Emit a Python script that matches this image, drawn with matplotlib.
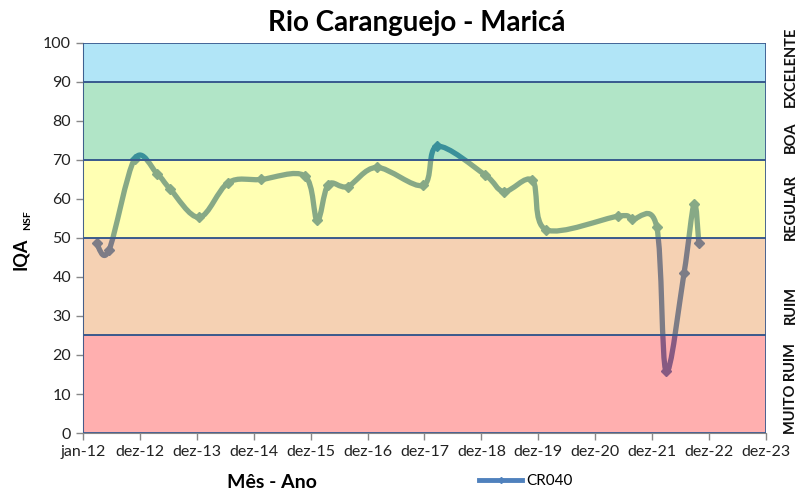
#! /usr/bin/env python

'''
IQA (NSF) do Rio Caranguejo - Marica, estacao CR040.
'''

import numpy as np
import matplotlib
matplotlib.use('Agg')
import matplotlib.pyplot as plt
import matplotlib.dates as mdates
from matplotlib.path import Path
from matplotlib.patches import PathPatch
from matplotlib.lines import Line2D

plt.rcParams['font.family'] = ['Lato', 'DejaVu Sans']

datas = ['2012-03-28', '2012-06-15', '2012-11-28', '2013-04-22',
         '2013-07-12', '2014-01-16', '2014-07-21', '2015-02-14', '2015-11-24',
         '2016-02-11', '2016-04-22', '2016-08-24', '2017-02-27', '2017-12-22',
         '2018-03-22', '2019-01-22', '2019-05-24', '2019-11-22', '2020-02-19',
         '2021-05-26', '2021-08-24', '2022-01-27', '2022-03-28', '2022-07-21',
         '2022-09-24', '2022-10-24']
iqa = [48.6, 46.8, 70.3, 66.4,
       62.6, 55.3, 64.2, 65.0, 65.9,
       54.5, 63.7, 63.2, 68.1, 63.5,
       73.5, 66.2, 61.9, 64.8, 52.1,
       55.6, 54.9, 52.9, 15.8, 40.9,
       58.8, 48.8]

faixas = [(0, 25), (25, 50), (50, 70), (70, 90), (90, 100)]
faixa_nomes = ['MUITO RUIM', 'RUIM', 'REGULAR', 'BOA', 'EXCELENTE']
faixa_cores = ['#ff0808', '#e07214', '#ffff14', '#0eb153', '#0eb1e9']
nome_pos = [11.5, 32.8, 57.9, 75.9, 93.8]

inicio = '2012-01-01'
x_labels = ['jan-12', 'dez-12', 'dez-13', 'dez-14', 'dez-15', 'dez-16',
            'dez-17', 'dez-18', 'dez-19', 'dez-20', 'dez-21', 'dez-22', 'dez-23']


def smooth_path(x, y):
    '''
    Curva suave tipo Excel (Catmull-Rom como bezier cubica).
    '''
    p = np.column_stack([x, y])
    p_ext = np.vstack([p[0], p, p[-1]])
    verts = [p[0]]
    codes = [Path.MOVETO]
    for i in range(len(p) - 1):
        p0, p1, p2, p3 = p_ext[i], p_ext[i + 1], p_ext[i + 2], p_ext[i + 3]
        verts += [p1 + (p2 - p0) / 6.0, p2 - (p3 - p1) / 6.0, p2]
        codes += [Path.CURVE4] * 3
    return Path(verts, codes)


def plot_iqa():
    fig = plt.figure(figsize=(8.11, 4.93), dpi=100)
    ax = fig.add_axes([0.1023, 0.1217, 0.8422, 0.7911])

    x = mdates.datestr2num(datas)
    y = np.array(iqa)
    azul = '#4f81bd'

    path = smooth_path(x, y)
    ax.add_patch(PathPatch(path, facecolor='none', edgecolor=azul, lw=3.8,
                           capstyle='round', joinstyle='round', zorder=1))
    ax.plot(x, y, ls='none', marker='D', ms=5.5, color=azul, zorder=2)

    for (y0, y1), cor in zip(faixas, faixa_cores):
        ax.axhspan(y0, y1, facecolor=matplotlib.colors.to_rgba(cor, 0.32),
                   edgecolor='#3b5b8f', lw=1.3, zorder=3)

    t0 = mdates.datestr2num(inicio)
    ticks = t0 + 365 * np.arange(len(x_labels))
    ax.set_xlim(ticks[0], ticks[-1])
    ax.set_ylim(0, 100)
    ax.set_xticks(ticks)
    ax.set_xticklabels(x_labels)
    ax.set_yticks(np.arange(0, 101, 10))
    ax.tick_params(labelsize=11.5, colors='#222222', length=5, width=1,
                   color='#888888')
    for s in ax.spines.values():
        s.set_visible(False)
    ax.spines['left'].set_visible(True)
    ax.spines['left'].set_color('#888888')
    ax.spines['bottom'].set_visible(True)
    ax.spines['bottom'].set_color('#888888')

    for nome, pos in zip(faixa_nomes, nome_pos):
        ax.text(1.0366, pos, nome, transform=ax.get_yaxis_transform(),
                rotation=90, ha='center', va='center', fontsize=10.5,
                fontweight='bold', color='#111111')

    fig.text(417 / 811, 1 - 23 / 493, 'Rio Caranguejo - Maricá', ha='center',
             va='center', fontsize=20, fontweight='bold')
    fig.text(272 / 811, 1 - 482 / 493, 'Mês - Ano', ha='center', va='center',
             fontsize=14, fontweight='bold')
    fig.text(21 / 811, 1 - 254 / 493, 'IQA', rotation=90, ha='center',
             va='center', fontsize=13, fontweight='bold')
    fig.text(28 / 811, 1 - 220 / 493, 'NSF', rotation=90, ha='center',
             va='center', fontsize=7.5, fontweight='bold')

    handle = Line2D([], [], color=azul, lw=3.5, marker='D', ms=3)
    fig.legend([handle], ['CR040'], loc='center', frameon=False,
               bbox_to_anchor=(526 / 811, 1 - 481 / 493), fontsize=11,
               handlelength=2.8, handletextpad=0.3)

    fig.savefig('out.png', dpi=100)


if __name__ == '__main__':
    plot_iqa()
